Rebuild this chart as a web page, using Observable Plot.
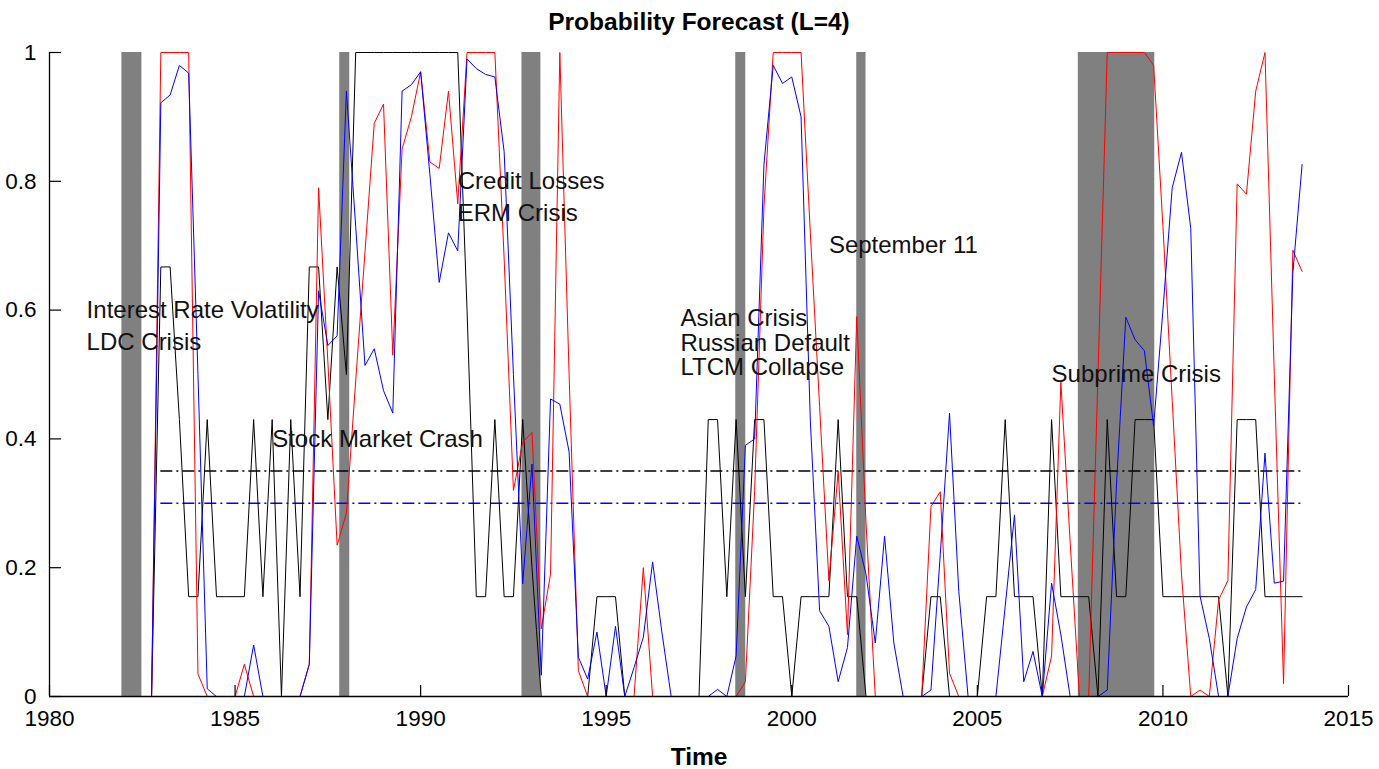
<!DOCTYPE html>
<html>
<head>
<meta charset="utf-8">
<script src="https://cdn.jsdelivr.net/npm/d3@7"></script>
<script src="https://cdn.jsdelivr.net/npm/@observablehq/plot@0.6"></script>
<style>
  body { margin: 0; background: #fff; }
  #chart svg { display: block; }
</style>
</head>
<body>
<div id="chart"></div>
<script>
// ---- data (quarterly, first value = 1982 Q1) ----
const startYear = 1982;
const black = [
  0, 0, 0, 0,
  0.667, 0.667, 0.43, 0.155,
  0.155, 0.43, 0.155, 0.155,
  0.155, 0.155, 0.43, 0.155,
  0.43, 0, 0.43, 0.155,
  0.667, 0.667, 0.43, 0.667,
  0.5, 1, 1, 1,
  1, 1, 1, 1,
  1, 1, 1, 1,
  1, 0.6, 0.155, 0.155,
  0.43, 0.155, 0.155, 0.43,
  0.2, 0, 0, 0,
  0, 0, 0, 0.155,
  0.155, 0.155, 0, 0,
  0, 0, 0, 0,
  0, 0, 0, 0.43,
  0.43, 0.155, 0.43, 0.155,
  0.43, 0.43, 0.155, 0.155,
  0, 0.155, 0.155, 0.155,
  0.155, 0.43, 0.155, 0.155,
  0, 0, 0, 0,
  0, 0, 0, 0.155,
  0.155, 0, 0, 0,
  0, 0.155, 0.155, 0.43,
  0.155, 0.155, 0.155, 0,
  0.43, 0.155, 0.155, 0.155,
  0.155, 0, 0.43, 0.155,
  0.155, 0.43, 0.43, 0.43,
  0.155, 0.155, 0.155, 0.155,
  0.155, 0.155, 0.155, 0,
  0.43, 0.43, 0.43, 0.155,
  0.155, 0.155, 0.155, 0.155
];
const red = [
  0, 0, 0, 0,
  1, 1, 1, 1,
  0.035, 0, 0, 0,
  0, 0.05, 0, 0,
  0, 0, 0, 0,
  0.05, 0.79, 0.52, 0.235,
  0.285, 0.49, 0.69, 0.89,
  0.92, 0.53, 0.85, 0.9,
  0.97, 0.83, 0.82, 0.94,
  0.765, 1, 1, 1,
  1, 0.68, 0.32, 0.395,
  0.41, 0.105, 0.19, 1,
  0.5, 0.04, 0, 0,
  0, 0, 0, 0,
  0.2, 0, 0, 0,
  0, 0, 0, 0,
  0, 0, 0, 0.023,
  0.32, 0.76, 1, 1,
  1, 1, 0.72, 0.45,
  0.18, 0.35, 0.096, 0.59,
  0.27, 0, 0, 0,
  0, 0, 0, 0.295,
  0.318, 0.036, 0, 0,
  0, 0, 0, 0,
  0, 0, 0, 0,
  0.063, 0.488, 0.24, 0,
  0, 0.5, 1, 1,
  1, 1, 1, 0.98,
  0.73, 0.46, 0.19, 0,
  0.01, 0, 0.15, 0.18,
  0.796, 0.78, 0.94, 1,
  0.5, 0.02, 0.693, 0.66
];
const blue = [
  0, 0, 0, 0,
  0.922, 0.934, 0.98, 0.968,
  0.5, 0.012, 0, 0,
  0, 0, 0.08, 0,
  0, 0, 0, 0,
  0.05, 0.63, 0.545, 0.56,
  0.94, 0.73, 0.514, 0.54,
  0.475, 0.44, 0.94, 0.95,
  0.97, 0.81, 0.643, 0.72,
  0.692, 0.99, 0.975, 0.966,
  0.962, 0.846, 0.5, 0.175,
  0.361, 0.033, 0.462, 0.454,
  0.38, 0.061, 0.027, 0.1,
  0, 0.109, 0, 0.045,
  0.092, 0.209, 0.1, 0,
  0, 0, 0, 0,
  0.011, 0, 0.063, 0.39,
  0.4, 0.826, 0.98, 0.952,
  0.962, 0.9, 0.428, 0.133,
  0.109, 0.023, 0.076, 0.249,
  0.19, 0.083, 0.249, 0.083,
  0, 0, 0, 0.01,
  0.22, 0.44, 0.163, 0,
  0, 0, 0, 0.14,
  0.282, 0.023, 0.07, 0,
  0.176, 0.096, 0, 0,
  0, 0, 0.01, 0.33,
  0.589, 0.554, 0.537, 0.42,
  0.6, 0.79, 0.845, 0.727,
  0.156, 0.09, 0, 0,
  0.09, 0.139, 0.166, 0.378,
  0.176, 0.179, 0.657, 0.826
];
const crisisStart = [1981.95, 1987.82, 1992.73, 1998.49, 2001.75, 2007.72];
const crisisEnd   = [1982.49, 1988.09, 1993.24, 1998.76, 2002.0, 2009.78];
const thresholdValues = [0.35, 0.30];
const thresholdColors = ["black", "#0000ff"];
const thresholdFrom = 1983.0;
const thresholdTo = 2013.75;
const annoText = ["Interest Rate Volatility", "LDC Crisis", "Stock Market Crash", "Credit Losses", "ERM Crisis",
                  "Asian Crisis", "Russian Default", "LTCM Collapse", "September 11", "Subprime Crisis"];
const annoX = [1981, 1981, 1986, 1991, 1991, 1997, 1997, 1997, 2001, 2007];
const annoY = [0.6, 0.55, 0.4, 0.8, 0.75, 0.587, 0.549, 0.511, 0.7, 0.5];
const xTicks = [1980, 1985, 1990, 1995, 2000, 2005, 2010, 2015];
const yTicks = [0, 0.2, 0.4, 0.6, 0.8, 1];
const titleText = "Probability Forecast (L=4)";
const xLabelText = "Time";

// ---- build tables ----
const rows = black.map((b, i) => ({t: startYear + i / 4, black: b, red: red[i], blue: blue[i]}));
const bars = crisisStart.map((s, i) => ({s, e: crisisEnd[i]}));
const annos = annoText.map((text, i) => ({text, x: annoX[i], y: annoY[i]}));

const W = 1379, H = 769, ML = 49, MR = 31, MT = 52, MB = 73;
const frameW = W - ML - MR, frameH = H - MT - MB;
const font = "'Liberation Sans', Arial, Helvetica, sans-serif";

const marks = [
  Plot.rect(bars, {x1: "s", x2: "e", fill: "#808080"})
];
thresholdValues.forEach((v, i) => {
  marks.push(Plot.ruleY([v], {x1: thresholdFrom, x2: thresholdTo, stroke: thresholdColors[i], strokeWidth: 1.5, strokeDasharray: "12,4,2,4"}));
});
marks.push(
  Plot.line(rows, {x: "t", y: "black", stroke: "black", strokeWidth: 1}),
  Plot.line(rows, {x: "t", y: "red", stroke: "#ff0000", strokeWidth: 1}),
  Plot.line(rows, {x: "t", y: "blue", stroke: "#0000ff", strokeWidth: 1}),
  Plot.ruleY([0], {stroke: "black", strokeWidth: 1.3}),
  Plot.ruleX([1980], {stroke: "black", strokeWidth: 1.3}),
  Plot.ruleX(xTicks, {x: d => d, insetTop: frameH - 11, stroke: "black", strokeWidth: 1.2}),
  Plot.ruleY(yTicks, {y: d => d, insetRight: frameW - 12, stroke: "black", strokeWidth: 1.2}),
  Plot.axisX({ticks: xTicks, tickSize: 0, tickPadding: 14, tickFormat: d => String(d), fontSize: 22.5, label: null}),
  Plot.axisY({ticks: yTicks, tickSize: 0, tickPadding: 13, tickFormat: d => String(d), fontSize: 22.5, label: null}),
  Plot.text(annos, {x: "x", y: "y", text: "text", textAnchor: "start", lineAnchor: "middle", fontSize: 24, fill: "#111"}),
  Plot.text([titleText], {frameAnchor: "top", lineAnchor: "middle", dy: -30, fontWeight: "bold", fontSize: 24.5, fill: "black"}),
  Plot.text([xLabelText], {frameAnchor: "bottom", lineAnchor: "middle", dy: 61, fontWeight: "bold", fontSize: 24.5, fill: "black"})
);

const chart = Plot.plot({
  width: W, height: H,
  marginLeft: ML, marginRight: MR, marginTop: MT, marginBottom: MB,
  style: {fontFamily: font, background: "white", color: "black"},
  x: {domain: [1980, 2015], axis: null},
  y: {domain: [0, 1], axis: null},
  marks
});
document.getElementById("chart").appendChild(chart);
</script>
</body>
</html>
